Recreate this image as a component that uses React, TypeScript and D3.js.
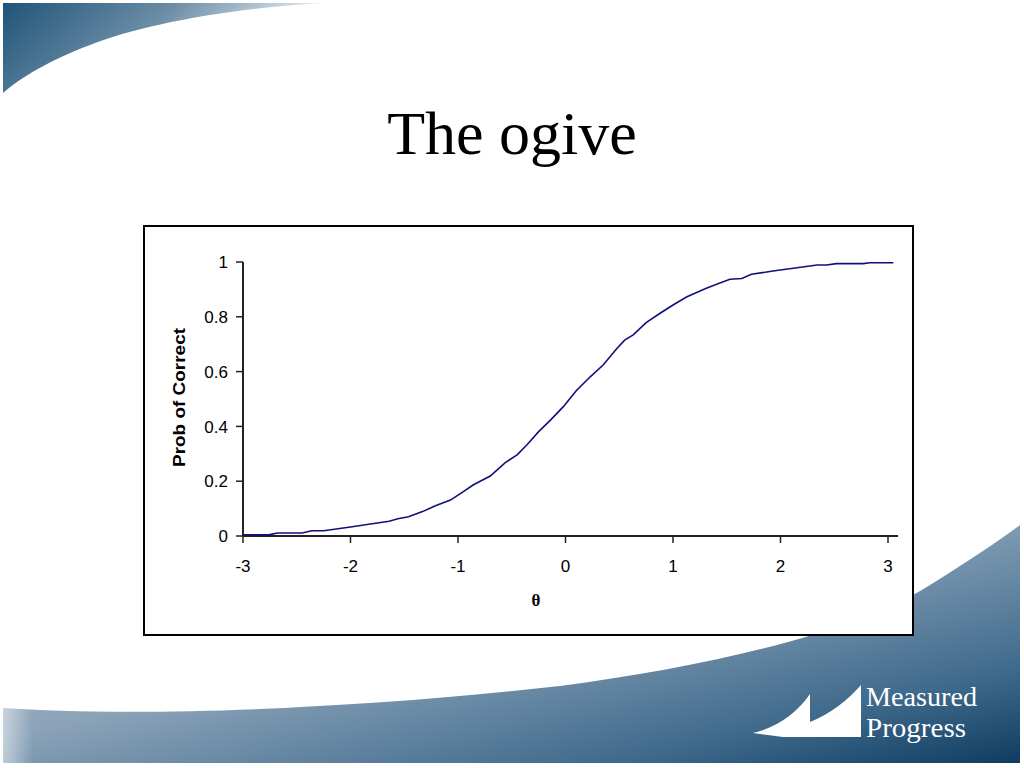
import React from "react";
import * as d3 from "d3";

// ogive
const thetaValues = [
  -3.0, -2.76, -2.68, -2.45, -2.36, -2.25, -2.0, -1.83, -1.64, -1.56, -1.46, -1.33,
  -1.21, -1.07, -0.95, -0.86, -0.7, -0.56, -0.45, -0.36, -0.25, -0.14, -0.02, 0.1,
  0.23, 0.35, 0.48, 0.55, 0.63, 0.75, 0.88, 1.0, 1.13, 1.31, 1.43, 1.53, 1.64, 1.73,
  1.93, 2.12, 2.34, 2.43, 2.52, 2.77, 2.83, 3.05,
];
const probValues = [
  0.004, 0.004, 0.011, 0.011, 0.019, 0.019, 0.033, 0.043, 0.054, 0.063, 0.07, 0.089,
  0.11, 0.131, 0.162, 0.186, 0.219, 0.268, 0.296, 0.332, 0.381, 0.423, 0.472, 0.53,
  0.581, 0.624, 0.685, 0.715, 0.734, 0.779, 0.813, 0.843, 0.873, 0.904, 0.922, 0.937,
  0.94, 0.955, 0.967, 0.977, 0.989, 0.989, 0.994, 0.994, 0.997, 0.997,
];
const xTicks = [-3, -2, -1, 0, 1, 2, 3];
const yTicks = [0, 0.2, 0.4, 0.6, 0.8, 1];

const title = "The ogive";
const yTitle = "Prob of Correct";
const xTitle = "θ";
const logoLines = ["Measured", "Progress"];

const W = 1024;
const H = 768;

export default function App() {
  const x = d3.scaleLinear().domain([-3, 3]).range([243, 888]);
  const y = d3.scaleLinear().domain([0, 1]).range([536, 262]);

  const pts: [number, number][] = thetaValues.map((t, i) => [t, probValues[i]]);
  const line = d3
    .line<[number, number]>()
    .x((d) => x(d[0]))
    .y((d) => y(d[1]));

  const sans = "'Liberation Sans', Arial, sans-serif";
  const serif = "'Liberation Serif', 'Times New Roman', serif";

  return (
    <svg
      width={W}
      height={H}
      style={{ position: "absolute", left: 0, top: 0, background: "#fff" }}
    >
      <defs>
        <linearGradient id="topGrad" x1="0" y1="0" x2="1" y2="0.3">
          <stop offset="0" stopColor="#1f5479" />
          <stop offset="0.5" stopColor="#6d8ea7" />
          <stop offset="1" stopColor="#ffffff" />
        </linearGradient>
        <linearGradient id="botGrad" x1="0" y1="0" x2="1" y2="1">
          <stop offset="0" stopColor="#c3cfdb" />
          <stop offset="0.45" stopColor="#8aa2b8" />
          <stop offset="0.8" stopColor="#3f6a8c" />
          <stop offset="1" stopColor="#0f3c60" />
        </linearGradient>
        <linearGradient id="edgeGrad" x1="0" y1="0" x2="1" y2="0">
          <stop offset="0" stopColor="#ffffff" stopOpacity={0.5} />
          <stop offset="1" stopColor="#ffffff" stopOpacity={0} />
        </linearGradient>
      </defs>

      {/* slide decoration */}
      <path
        d="M3,3 L325,3 C230,8 140,25 90,45 C50,60 20,78 3,93 Z"
        fill="url(#topGrad)"
      />
      <path
        d="M3,708 C120,716 330,712 560,686 C720,665 860,630 930,585 C970,560 1000,540 1020,525 L1020,763 L3,763 Z"
        fill="url(#botGrad)"
      />
      <rect x={3} y={706} width={30} height={57} fill="url(#edgeGrad)" />

      {/* logo */}
      <path
        d="M753,733 C778,727 798,712 810,694 L810,722 C830,714 848,700 861,685 L861,737 L783,737 Z"
        fill="#fff"
      />
      <text
        x={866}
        y={706}
        fill="#fff"
        fontFamily={serif}
        fontSize={27}
        textLength={111}
        lengthAdjust="spacingAndGlyphs"
      >
        {logoLines[0]}
      </text>
      <text
        x={866}
        y={737}
        fill="#fff"
        fontFamily={serif}
        fontSize={27}
        textLength={100}
        lengthAdjust="spacingAndGlyphs"
      >
        {logoLines[1]}
      </text>

      {/* title */}
      <text x={512} y={154} textAnchor="middle" fontFamily={serif} fontSize={62} fill="#000">
        {title}
      </text>

      {/* chart frame */}
      <rect x={144} y={226} width={769} height={409} fill="#fff" stroke="#000" strokeWidth={2} />

      {/* y axis */}
      <line x1={x(-3)} x2={x(-3)} y1={y(0)} y2={y(1)} stroke="#222" strokeWidth={2} />
      {yTicks.map((t) => (
        <g key={`y${t}`}>
          <line x1={x(-3) - 7} x2={x(-3)} y1={y(t)} y2={y(t)} stroke="#222" strokeWidth={1.5} />
          <text
            x={x(-3) - 15}
            y={y(t)}
            dy="0.36em"
            textAnchor="end"
            fontFamily={sans}
            fontSize={17}
            fill="#000"
          >
            {t}
          </text>
        </g>
      ))}

      {/* x axis */}
      <line x1={x(-3)} x2={898} y1={y(0)} y2={y(0)} stroke="#222" strokeWidth={2} />
      {xTicks.map((t) => (
        <g key={`x${t}`}>
          <line x1={x(t)} x2={x(t)} y1={y(0)} y2={y(0) + 7} stroke="#222" strokeWidth={1.5} />
          <text
            x={x(t)}
            y={y(0) + 30}
            dy="0.36em"
            textAnchor="middle"
            fontFamily={sans}
            fontSize={17}
            fill="#000"
          >
            {t}
          </text>
        </g>
      ))}

      <text
        transform={`translate(185,397.5) rotate(-90)`}
        textAnchor="middle"
        fontFamily={sans}
        fontWeight="bold"
        fontSize={17}
        textLength={139}
        lengthAdjust="spacingAndGlyphs"
        fill="#000"
      >
        {yTitle}
      </text>
      <text x={536} y={606} textAnchor="middle" fontFamily={serif} fontWeight="bold" fontSize={17} fill="#000">
        {xTitle}
      </text>

      {/* ogive curve */}
      <path d={line(pts) ?? ""} fill="none" stroke="#10107a" strokeWidth={1.6} />
    </svg>
  );
}
